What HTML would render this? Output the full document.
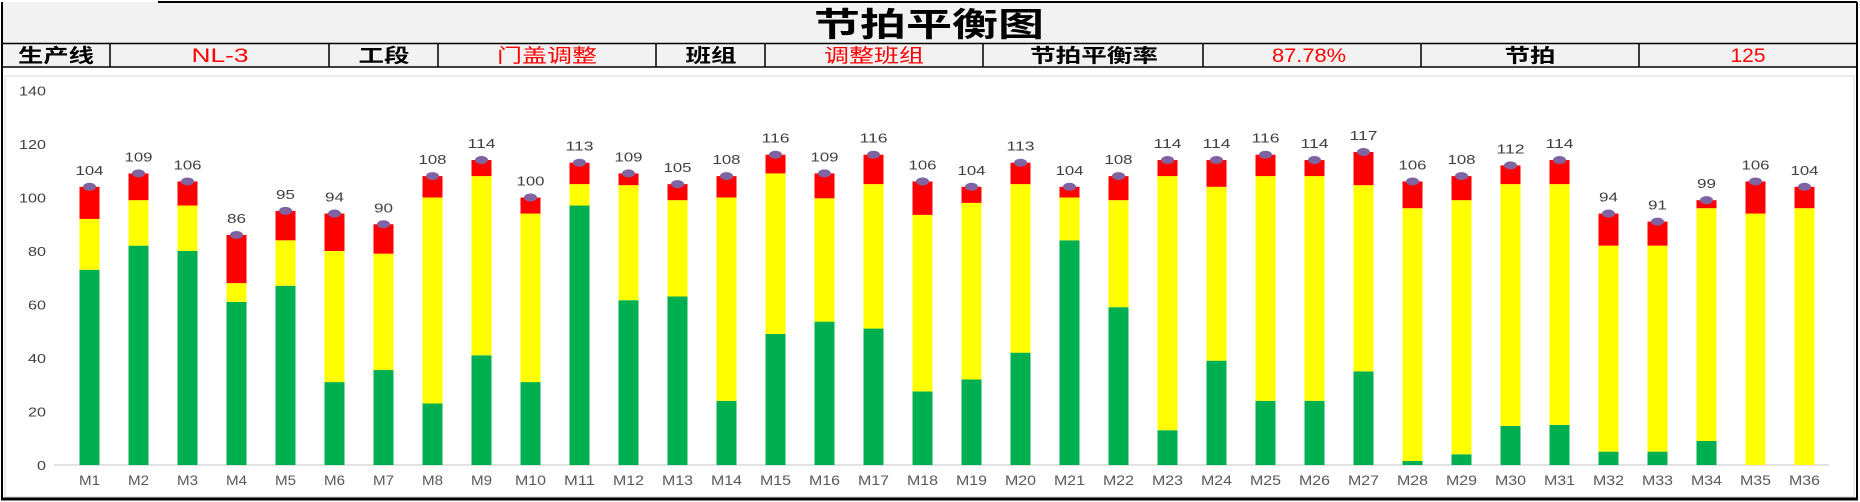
<!DOCTYPE html>
<html><head><meta charset="utf-8"><style>
html,body{margin:0;padding:0;background:#fff;}
svg{display:block;}
</style></head><body>
<svg id="s" width="1860" height="502" xmlns="http://www.w3.org/2000/svg" font-family="'Liberation Sans','Noto Sans CJK SC',sans-serif">
<rect x="0" y="0" width="1860" height="502" fill="#fff"/>
<rect x="2" y="2" width="1855" height="65" fill="#f2f2f2"/>
<rect x="5" y="76" width="1849" height="421" fill="#fff" stroke="#d9d9d9" stroke-width="1"/>
<line x1="158" y1="2" x2="1857" y2="2" stroke="#000" stroke-width="2"/>
<line x1="2" y1="2" x2="2" y2="499" stroke="#000" stroke-width="2"/>
<line x1="1857" y1="2" x2="1857" y2="499" stroke="#000" stroke-width="2"/>
<line x1="1" y1="499" x2="1858" y2="499" stroke="#000" stroke-width="3"/>
<line x1="2" y1="43.5" x2="1857" y2="43.5" stroke="#000" stroke-width="1.5"/>
<line x1="2" y1="67" x2="1857" y2="67" stroke="#000" stroke-width="1.5"/>
<g stroke="#000" stroke-width="1.5">
<line x1="110" y1="43" x2="110" y2="67"/><line x1="329" y1="43" x2="329" y2="67"/>
<line x1="438" y1="43" x2="438" y2="67"/><line x1="656" y1="43" x2="656" y2="67"/>
<line x1="765" y1="43" x2="765" y2="67"/><line x1="983" y1="43" x2="983" y2="67"/>
<line x1="1203" y1="43" x2="1203" y2="67"/><line x1="1421" y1="43" x2="1421" y2="67"/>
<line x1="1639" y1="43" x2="1639" y2="67"/>
</g>
<text x="929" y="36" font-size="33" font-weight="bold" text-anchor="middle" textLength="230" lengthAdjust="spacingAndGlyphs">节拍平衡图</text>
<g font-size="19" text-anchor="middle">
<text x="56" y="62" font-weight="bold" textLength="76" lengthAdjust="spacingAndGlyphs">生产线</text>
<text x="220" y="62" fill="#ff0000" textLength="57" lengthAdjust="spacingAndGlyphs">NL-3</text>
<text x="384" y="62" font-weight="bold" textLength="51" lengthAdjust="spacingAndGlyphs">工段</text>
<text x="547" y="62" fill="#ff0000" textLength="100" lengthAdjust="spacingAndGlyphs">门盖调整</text>
<text x="711" y="62" font-weight="bold" textLength="51" lengthAdjust="spacingAndGlyphs">班组</text>
<text x="874" y="62" fill="#ff0000" textLength="100" lengthAdjust="spacingAndGlyphs">调整班组</text>
<text x="1094" y="62" font-weight="bold" textLength="128" lengthAdjust="spacingAndGlyphs">节拍平衡率</text>
<text x="1309" y="62" fill="#ff0000" textLength="74" lengthAdjust="spacingAndGlyphs">87.78%</text>
<text x="1530" y="62" font-weight="bold" textLength="51" lengthAdjust="spacingAndGlyphs">节拍</text>
<text x="1748" y="62" fill="#ff0000" textLength="35" lengthAdjust="spacingAndGlyphs">125</text>
</g>
<line x1="54" y1="465" x2="1829" y2="465" stroke="#d9d9d9" stroke-width="1.5"/>
<g id="ylab" font-size="13" fill="#404040" text-anchor="end"></g>
<g id="bars"></g>
</svg>
<script>
(function(){
var tot=[104,109,106,86,95,94,90,108,114,100,113,109,105,108,116,109,116,106,104,113,104,108,114,114,116,114,117,106,108,112,114,94,91,99,106,104];
var g=[73,82,80,61,67,31,35.5,23,41,31,97,61.6,63,24,49,53.6,51,27.5,32,42,84,59,13,39,24,24,35,1.5,4,14.6,15,5,5,9,0,0];
var y=[92,99,97,68,84,80,79,100,108,94,105,104.6,99,100,109,99.7,105,93.5,98,105,100,99,108,104,108,108,104.6,96,99,105,105,82,82,96,94,96];
var Y0=465,K=2.675,ns="http://www.w3.org/2000/svg";
function el(t,a,p,txt){var e=document.createElementNS(ns,t);for(var k in a)e.setAttribute(k,a[k]);if(txt!=null)e.textContent=txt;p.appendChild(e);return e;}
var yl=document.getElementById('ylab');
for(var v=0;v<=140;v+=20){el('text',{x:46,y:Y0-v*K+5,textLength:(v<100?(v==0?9:18):27),lengthAdjust:'spacingAndGlyphs'},yl,String(v));}
var b=document.getElementById('bars');
for(var i=0;i<36;i++){
 var cx=89.5+49*i,w=20,x=cx-w/2;
 var seg=function(a,c,col){if(c>a)el('rect',{x:x,y:Y0-c*K,width:w,height:(c-a)*K,fill:col},b);};
 seg(0,g[i],'#00b050');seg(g[i],y[i],'#ffff00');seg(y[i],tot[i],'#ff0000');
 var ty=Y0-tot[i]*K;
 el('ellipse',{cx:cx,cy:ty,rx:6.5,ry:4,fill:'#8064a2'},b);
 el('text',{x:cx,y:ty-12,'font-size':13,fill:'#404040','text-anchor':'middle',textLength:(tot[i]<100?19:28),lengthAdjust:'spacingAndGlyphs'},b,String(tot[i]));
 el('text',{x:cx,y:485,'font-size':14,fill:'#595959','text-anchor':'middle',textLength:(i<9?21:31),lengthAdjust:'spacingAndGlyphs'},b,'M'+(i+1));
}
})();
</script>
</body></html>
